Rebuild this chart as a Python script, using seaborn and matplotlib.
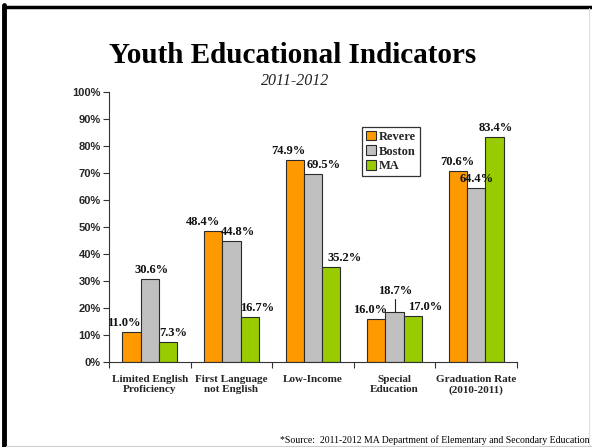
import matplotlib
matplotlib.use("Agg")
import matplotlib.pyplot as plt
import seaborn as sns
import pandas as pd
from matplotlib.patches import Rectangle
from matplotlib.lines import Line2D

# ---- data ----
categories = ["Limited English\nProficiency", "First Language\nnot English", "Low-Income",
              "Special\nEducation", "Graduation Rate\n(2010-2011)"]
series = ["Revere", "Boston", "MA"]
revere = [11.0, 48.4, 74.9, 16.0, 70.6]
boston = [30.6, 44.8, 69.5, 18.7, 64.4]
ma = [7.3, 16.7, 35.2, 17.0, 83.4]
y_ticks = [0, 10, 20, 30, 40, 50, 60, 70, 80, 90, 100]
title = "Youth Educational Indicators"
subtitle = "2011-2012"
source = "*Source:  2011-2012 MA Department of Elementary and Secondary Education"

colors = ["#FF9900", "#C0C0C0", "#99CC00"]

rows = []
for s, vals in zip(series, [revere, boston, ma]):
    for c, v in zip(categories, vals):
        rows.append({"category": c, "series": s, "value": v})
df = pd.DataFrame(rows)

sns.set_theme(style="white")
plt.rcParams["font.family"] = ["Liberation Serif", "DejaVu Serif"]

fig = plt.figure(figsize=(5.92, 4.47), dpi=100)
W, H = 592, 447
ax = fig.add_axes([109 / W, 1 - 362 / H, (517 - 109) / W, (362 - 92) / H])

sns.barplot(data=df, x="category", y="value", hue="series", order=categories,
            hue_order=series, palette=colors, saturation=1, width=0.67, gap=0,
            edgecolor="#2b2b2b", linewidth=0.8, ax=ax, legend=False, errorbar=None)

ax.set_xlim(-0.5, len(categories) - 0.5)
ax.set_ylim(0, 100)
ax.set_yticks(y_ticks)
ax.set_yticklabels([f"{t}%" for t in y_ticks], family="Liberation Sans",
                   fontweight="bold", fontsize=8)
ax.set_xticks([i - 0.5 for i in range(len(categories) + 1)])
ax.set_xticklabels([])
ax.set_xticks(range(len(categories)), minor=True)
ax.set_xticklabels(categories, minor=True, fontweight="bold", fontsize=8,
                   linespacing=1.25)
ax.tick_params(axis="x", which="minor", length=0, pad=9)
ax.tick_params(axis="x", which="major", length=4, width=0.8, color="#333333", direction="out", bottom=True)
ax.tick_params(axis="y", length=4, width=0.8, color="#333333", direction="out", left=True, pad=2)
ax.set_xlabel("")
ax.set_ylabel("")
for side in ["top", "right"]:
    ax.spines[side].set_visible(False)
for side in ["left", "bottom"]:
    ax.spines[side].set_color("#333333")
    ax.spines[side].set_linewidth(0.8)

# data labels (offsets in pixels relative to bar top center)
offsets = {
    "Revere": [(-8, 3), (-10, 3), (-6, 3), (-6, 3), (-1, 3)],
    "Boston": [(2, 3), (7, 3), (11, 3), (1, 15), (0, 3)],
    "MA": [(5, 3), (7, 3), (13, 3), (12, 3), (1, 3)],
}
for s, cont in zip(series, ax.containers):
    for (dx, dy), rect, v in zip(offsets[s], cont.patches, df[df.series == s].value):
        x = rect.get_x() + rect.get_width() / 2
        y = rect.get_height()
        ax.annotate(f"{v:.1f}%", (x, y), xytext=(dx * 0.72, dy * 0.72),
                    textcoords="offset points", ha="center", va="bottom",
                    fontsize=9, fontweight="bold", color="#111111")
        if dy > 10:
            ax.plot([x, x], [y, y + 4.5], color="#222222", lw=0.8, clip_on=False)

# legend
handles = [Rectangle((0, 0), 1, 1, facecolor=c, edgecolor="#2b2b2b", linewidth=0.8) for c in colors]
leg = fig.legend(handles, series, loc="upper left", bbox_to_anchor=(362 / W, 1 - 127 / H),
                 bbox_transform=fig.transFigure, frameon=True, fancybox=False,
                 prop={"family": "Liberation Serif", "weight": "bold", "size": 9},
                 handlelength=0.8, handleheight=0.8, handletextpad=0.25,
                 labelspacing=0.2, borderpad=0.3, borderaxespad=0)
leg.get_frame().set_edgecolor("black")
leg.get_frame().set_linewidth(0.9)

# titles
fig.text(293 / W, 1 - 63 / H, title, ha="center", va="baseline",
         fontsize=21, fontweight="bold", color="black")
fig.text(295 / W, 1 - 85 / H, subtitle, ha="center", va="baseline",
         fontsize=11.5, fontstyle="italic", color="#222222")
fig.text(589 / W, 1 - 443 / H, source, ha="right", va="baseline", fontsize=7, color="black")

# frame
fig.add_artist(Line2D([4 / W, 4 / W], [0, 1 - 5 / H], color="black", lw=3.5, transform=fig.transFigure))
fig.add_artist(Line2D([4 / W, 1], [1 - 6.5 / H, 1 - 6.5 / H], color="black", lw=2.5, transform=fig.transFigure))
fig.add_artist(Line2D([589 / W, 589 / W], [0, 1 - 8 / H], color="#dddddd", lw=0.8, transform=fig.transFigure))
fig.add_artist(Line2D([6 / W, 1], [1 / H, 1 / H], color="#cccccc", lw=0.8, transform=fig.transFigure))

fig.savefig("out.png", dpi=100)
